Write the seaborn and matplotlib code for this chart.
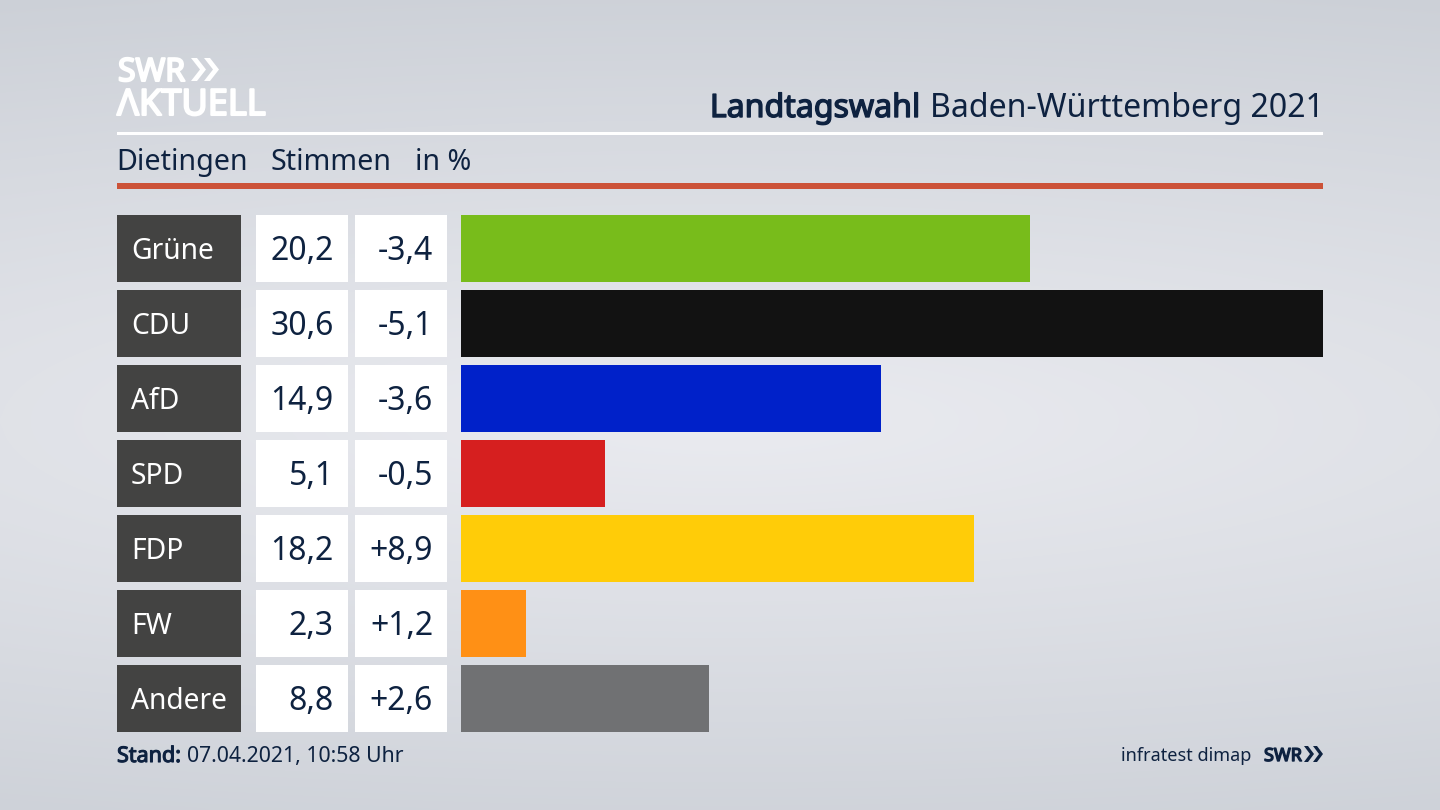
import numpy as np
import pandas as pd
import seaborn as sns
import matplotlib
matplotlib.use("Agg")
import matplotlib.pyplot as plt
import matplotlib.patheffects as pe
from matplotlib.patches import Rectangle, Polygon

parties = ["Grüne", "CDU", "AfD", "SPD", "FDP", "FW", "Andere"]
shares = [20.2, 30.6, 14.9, 5.1, 18.2, 2.3, 8.8]
changes = [-3.4, -5.1, -3.6, -0.5, 8.9, 1.2, 2.6]
colors = ["#78bc1b", "#121212", "#0021c9", "#d61f1f", "#ffcc08", "#ff9015", "#707173"]

sns.set_theme(style="white")
plt.rcParams["font.family"] = ["Noto Sans", "DejaVu Sans"]

W, H = 1440, 810
NAVY = "#0e2240"
fig = plt.figure(figsize=(W / 100, H / 100), dpi=100)

# background gradient + pixel overlay
bg = fig.add_axes([0, 0, 1, 1], zorder=0)
yy, xx = np.mgrid[0:1:200j, 0:1:356j]
d = np.sqrt(((xx - 0.5) / 1.5) ** 2 + ((yy - 0.52) / 0.56) ** 2)
v = np.clip(d, 0, 1)
c0 = np.array([0xea, 0xeb, 0xf0]) / 255
c1 = np.array([0xcc, 0xd0, 0xd7]) / 255
img = c0[None, None, :] * (1 - v[..., None]) + c1[None, None, :] * v[..., None]
bg.imshow(img, extent=(0, W, H, 0), aspect="auto", interpolation="bicubic")
bg.set_xlim(0, W)
bg.set_ylim(H, 0)
bg.axis("off")

# bars
top, step, bar_h = 215, 75, 66.5
ax_top = top + bar_h / 2 - step / 2
ax_h = step * len(parties)
ax = fig.add_axes([461 / W, 1 - (ax_top + ax_h) / H, (1323 - 461) / W, ax_h / H], zorder=1)
df = pd.DataFrame({"party": parties, "share": shares})
sns.barplot(data=df, y="party", x="share", hue="party", palette=colors, order=parties,
            hue_order=parties, legend=False, width=bar_h / step, saturation=1,
            linewidth=0, edgecolor="none", ax=ax)
ax.set_xlim(0, max(shares))
ax.set_ylim(len(parties) - 0.5, -0.5)
ax.axis("off")
ax.patch.set_alpha(0)

# table cells
ov = fig.add_axes([0, 0, 1, 1], zorder=2)
ov.set_xlim(0, W)
ov.set_ylim(H, 0)
ov.axis("off")
ov.patch.set_alpha(0)


def rect(x0, y0, x1, y1, color):
    ov.add_patch(Rectangle((x0, y0), x1 - x0, y1 - y0, facecolor=color, edgecolor="none", linewidth=0))


def bold(t, color, w):
    t.set_path_effects([pe.withStroke(linewidth=w, foreground=color)])
    return t


def fmt(v, signed=False):
    s = f"{v:+.1f}" if signed else f"{v:.1f}"
    return s.replace(".", ",")


for i, p in enumerate(parties):
    y0 = top + i * step
    y1 = y0 + bar_h
    base = y0 + 33 + 12
    rect(117, y0, 241, y1, "#434342")
    rect(256, y0, 348, y1, "white")
    rect(355, y0, 447, y1, "white")
    ov.text(131, base - 1, p, color="white", fontsize=20.3, ha="left", va="baseline")
    ov.text(333.5, base, fmt(shares[i]), color=NAVY, fontsize=23, ha="right", va="baseline")
    ov.text(433, base, fmt(changes[i], True), color=NAVY, fontsize=23, ha="right", va="baseline")

# rules
rect(117, 132, 1323, 135, "white")
rect(117, 183, 1323, 189, "#cc5238")

# heading
ov.text(1323.5, 117, "Baden-Württemberg 2021", color=NAVY, fontsize=23.1, ha="right", va="baseline")
bold(ov.text(920.5, 117, "Landtagswahl", color=NAVY, fontsize=23.1, ha="right", va="baseline"), NAVY, 1.0)
ov.text(116, 170, "Dietingen", color=NAVY, fontsize=20.6, ha="left", va="baseline")
ov.text(270, 170, "Stimmen", color=NAVY, fontsize=20.6, ha="left", va="baseline")
ov.text(415, 170, "in %", color=NAVY, fontsize=20.6, ha="left", va="baseline")

# footer
bold(ov.text(117, 762, "Stand:", color=NAVY, fontsize=15.5, ha="left", va="baseline"), NAVY, 0.8)
ov.text(187, 762, "07.04.2021, 10:58 Uhr", color=NAVY, fontsize=15.3, ha="left", va="baseline")
ov.text(1251, 761, "infratest dimap", color=NAVY, fontsize=13, ha="right", va="baseline")
bold(ov.text(1264, 761, "SWR", color=NAVY, fontsize=13, ha="left", va="baseline"), NAVY, 1.0)


def chevrons(x, y0, y1, w, t, gap, color):
    m = (y0 + y1) / 2
    for k in range(2):
        o = x + k * gap
        ov.add_patch(Polygon([(o, y0), (o + t, y0), (o + t + w, m), (o + t, y1), (o, y1), (o + w, m)],
                             closed=True, facecolor=color, edgecolor="none"))


chevrons(1304, 746, 762, 6, 4, 9, NAVY)

# logo
bold(ov.text(118, 81, "SWR", color="white", fontsize=23, ha="left", va="baseline"), "white", 1.5)
bold(ov.text(117, 115, "ΛKTUELL", color="white", fontsize=26, ha="left", va="baseline"), "white", 1.5)
chevrons(191, 58, 81, 9, 6, 13, "white")

fig.savefig("out.png", dpi=100)
